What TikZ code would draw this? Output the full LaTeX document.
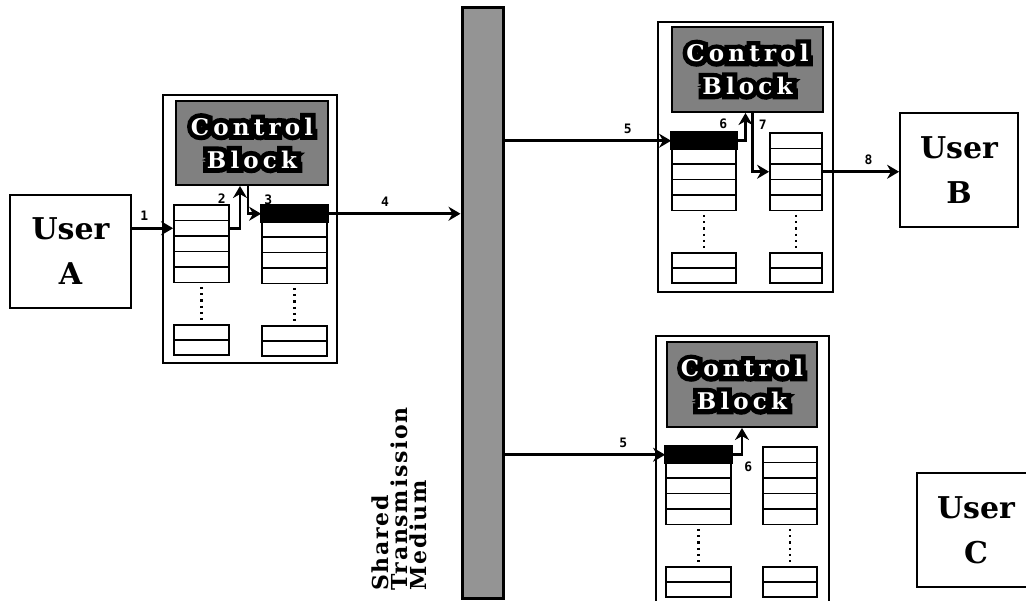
\documentclass[tikz,border=0pt]{standalone}
\usepackage{fontspec}
\setmainfont{Liberation Serif}
\newfontfamily\userfont{DejaVu Serif Bold}
\newfontfamily\medfont[LetterSpace=8]{DejaVu Serif Bold}
\newfontfamily\cbfont[LetterSpace=18]{DejaVu Serif Bold}
\newfontfamily\cbrim[LetterSpace=18,FakeBold=42]{DejaVu Serif Bold}
\newfontfamily\numfont{DejaVu Sans Mono}
\usetikzlibrary{positioning,arrows.meta,calc}

% one buffer queue: name, left x, top y, width
\newcommand{\queue}[4]{%
  \foreach \r in {1,...,5}
    \node[qrow, minimum width=#4pt] (#1-\r) at ({#2+#4/2},{#3+15.5*\r-7.75}) {};
  \draw[qdots] ({#2+#4/2},{#3+82}) -- ({#2+#4/2},{#3+116});
  \node[qrow, minimum width=#4pt, minimum height=15pt] (#1-6) at ({#2+#4/2},{#3+127.5}) {};
  \node[qrow, minimum width=#4pt, minimum height=15pt] (#1-7) at ({#2+#4/2},{#3+142.5}) {};
}
% outlined caption of a control block
\newcommand{\cbtext}[1]{%
  \node[cbrimtxt] (#1-rim) at (#1) {Control\\Block};
  \node[cbtxt] (#1-txt) at (#1) {Control\\Block};
}

\begin{document}
\begin{tikzpicture}[x=1pt, y=-1pt,
  box/.style={draw, line width=1.8pt, fill=white, align=center, inner sep=0pt,
    font=\userfont\fontsize{30}{45}\selectfont},
  host/.style={draw, line width=1.8pt, inner sep=0pt},
  ctrl/.style={draw, line width=2pt, fill=black!50, inner sep=0pt},
  cbtxt/.style={font=\cbfont\fontsize{23}{33}\selectfont, align=center, inner sep=0pt, text=white},
  cbrimtxt/.style={font=\cbrim\fontsize{23}{33}\selectfont, align=center, inner sep=0pt, text=black},
  qrow/.style={draw, line width=1.8pt, minimum height=15.5pt, inner sep=0pt},
  qdots/.style={line width=2.2pt, dash pattern=on 2.2pt off 4pt},
  link/.style={line width=2.8pt, -{Stealth[length=12pt,width=14pt]}},
  lbl/.style={font=\numfont\bfseries\fontsize{13}{13}\selectfont, inner sep=1pt}]
\useasboundingbox (0,0) rectangle (1026,601);
\fill[white] (0,0) rectangle (1026,601);
\clip (0,0) rectangle (1026,601);

% shared medium
\node[draw, line width=3pt, fill=black!42, minimum width=41pt, minimum height=590pt] (medium) at (482.5,303) {};
\node[rotate=90, anchor=north west, align=left, inner sep=0pt,
  font=\medfont\fontsize{22}{19}\selectfont] (mediumtxt) at (372,591) {Shared\\Transmission\\Medium};

% users
\node[box, minimum width=121pt, minimum height=113pt] (userA) at (70.5,251.5) {User\\A};
\node[box, minimum width=118pt, minimum height=114pt] (userB) at (959,170) {User\\B};
\node[box, minimum width=118pt, minimum height=114pt] (userC) at (976,530) {User\\C};

% station of user A
\node[host, minimum width=174pt, minimum height=268pt] (hostA) at (250,229) {};
\node[ctrl, minimum width=152pt, minimum height=84pt] (cbA) at (252,143) {};
\cbtext{cbA}
\queue{qAin}{174}{205}{55}
\queue{qAout}{262}{206}{65}
\fill[draw, line width=1.8pt] (qAout-1.north west) rectangle (qAout-1.south east);

% station of user B
\node[host, minimum width=175pt, minimum height=270pt] (hostB) at (745.5,157) {};
\node[ctrl, minimum width=151pt, minimum height=85pt] (cbB) at (747.5,69.5) {};
\cbtext{cbB}
\queue{qBin}{672}{133}{64}
\queue{qBout}{770}{133}{52}
\fill[draw, line width=1.8pt] (qBin-1.north west) rectangle (qBin-1.south east);

% station of user C
\node[host, minimum width=173pt, minimum height=270pt] (hostC) at (742.5,471) {};
\node[ctrl, minimum width=150pt, minimum height=85pt] (cbC) at (742,384.5) {};
\cbtext{cbC}
\queue{qCin}{666}{447}{65}
\queue{qCout}{763}{447}{54}
\fill[draw, line width=1.8pt] (qCin-1.north west) rectangle (qCin-1.south east);

% message path
\draw[link] (userA.east |- qAin-2.west) -- node[lbl, above=5pt, pos=0.3] {1} (qAin-2.west);
\draw[link] (qAin-2.east) -| node[lbl, left=12pt, pos=0.85] {2} ($(cbA.south)+(-12,0)$);
\draw[link] ($(cbA.south)+(-4,0)$) |- node[lbl, right=14pt, pos=0.25] {3} (qAout-1.west);
\draw[link] (qAout-1.east) -- node[lbl, above=5pt, pos=0.43] {4} (medium.west |- qAout-1.east);
\draw[link] (medium.east |- qBin-1.west) -- node[lbl, above=5pt, pos=0.74] {5} (qBin-1.west);
\draw[link] (qBin-1.east) -| node[lbl, left=16pt, pos=0.8] {6} ($(cbB.south)+(-2,0)$);
\draw[link] ($(cbB.south)+(5,0)$) |- node[lbl, right=4pt, pos=0.1] {7} (qBout-3.west);
\draw[link] (qBout-3.east) -- node[lbl, above=5pt, pos=0.6] {8} (userB.west |- qBout-3.east);
\draw[link] (medium.east |- qCin-1.west) -- node[lbl, above=5pt, pos=0.74] {5} (qCin-1.west);
\draw[link] (qCin-1.east) -| node[lbl, below right=5pt and 0pt, pos=0.5] {6} (cbC.south);
\end{tikzpicture}
\end{document}
